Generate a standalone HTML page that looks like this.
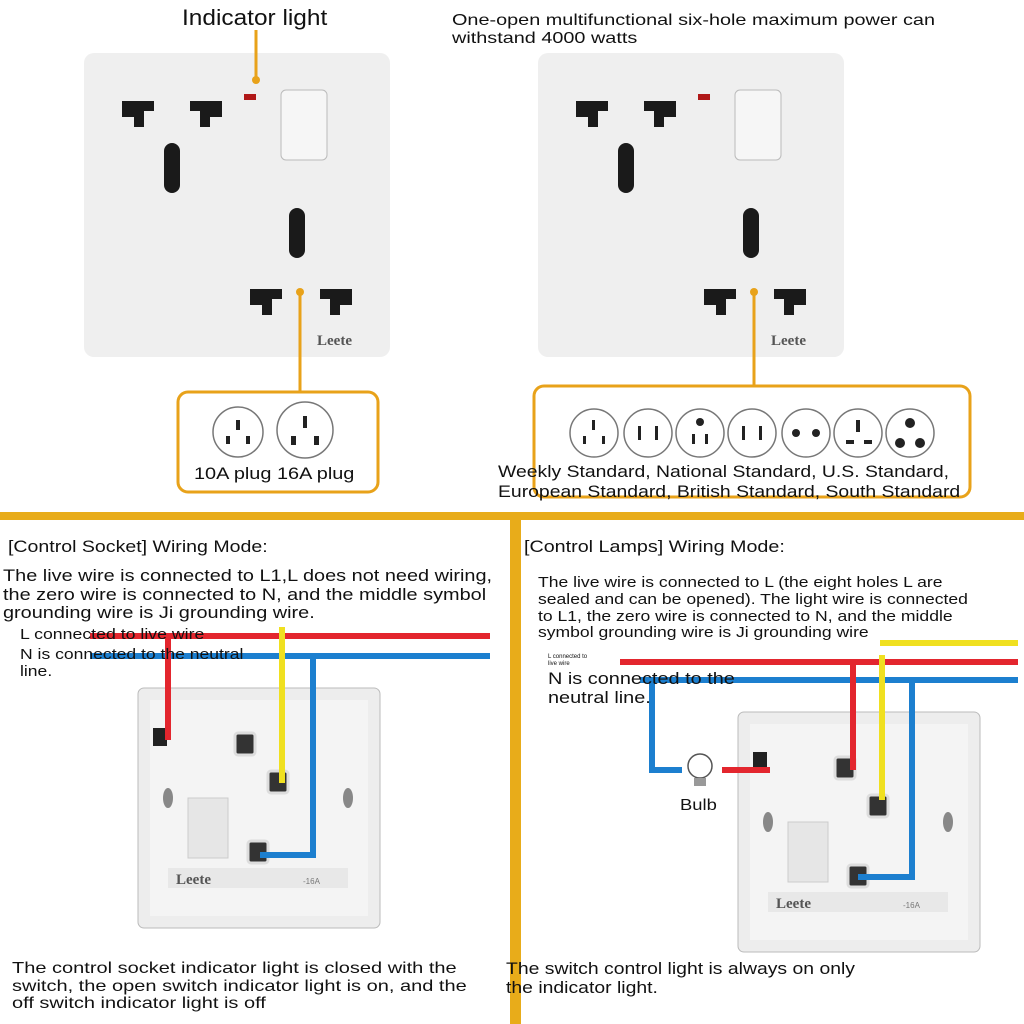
<!DOCTYPE html>
<html><head><meta charset="utf-8"><style>
body{margin:0;width:1024px;height:1024px;background:#fff;position:relative;overflow:hidden;font-family:"Liberation Sans",sans-serif;color:#111}
.t{position:absolute;white-space:nowrap;line-height:1.12;transform-origin:0 0}
</style></head><body>
<svg width="1024" height="1024" style="position:absolute;left:0;top:0">
<defs>
<g id="fp">
<rect x="0" y="0" width="306" height="304" rx="10" fill="#efefef"/>
<rect x="197" y="37" width="46" height="70" rx="5" fill="#f6f6f6" stroke="#bbb"/>
<rect x="160" y="41" width="12" height="6" fill="#b01818"/>
<path d="M38,48 h32 v10 h-10 v16 h-10 v-10 h-12z" fill="#1a1a1a"/>
<path d="M138,48 h-32 v10 h10 v16 h10 v-10 h12z" fill="#1a1a1a"/>
<rect x="80" y="90" width="16" height="50" rx="8" fill="#1a1a1a"/>
<rect x="205" y="155" width="16" height="50" rx="8" fill="#1a1a1a"/>
<path d="M166,236 h32 v10 h-10 v16 h-10 v-10 h-12z" fill="#1a1a1a"/>
<path d="M268,236 h-32 v10 h10 v16 h10 v-10 h12z" fill="#1a1a1a"/>
<text x="233" y="292" font-family="Liberation Serif" font-size="15" font-weight="bold" fill="#555">Leete</text>
</g>
<g id="bp">
<rect x="0" y="0" width="242" height="240" rx="6" fill="#ededed" stroke="#bbb"/>
<rect x="12" y="12" width="218" height="216" fill="#f4f4f4"/>
<rect x="15" y="40" width="14" height="18" fill="#222"/>
<rect x="97" y="45" width="20" height="22" rx="3" fill="#333" stroke="#ddd" stroke-width="3"/>
<rect x="130" y="83" width="20" height="22" rx="3" fill="#333" stroke="#ddd" stroke-width="3"/>
<rect x="110" y="153" width="20" height="22" rx="3" fill="#333" stroke="#ddd" stroke-width="3"/>
<ellipse cx="30" cy="110" rx="5" ry="10" fill="#888"/>
<ellipse cx="210" cy="110" rx="5" ry="10" fill="#888"/>
<rect x="50" y="110" width="40" height="60" fill="#e6e6e6" stroke="#ccc"/>
<rect x="30" y="180" width="180" height="20" fill="#e8e8e8"/>
<text x="38" y="196" font-family="Liberation Serif" font-size="15" font-weight="bold" fill="#555">Leete</text>
<text x="165" y="196" font-size="8" fill="#777">-16A</text>
</g>
</defs>
<use href="#fp" x="84" y="53"/>
<use href="#fp" x="538" y="53"/>
<g stroke="#e8a21a" stroke-width="3" fill="none">
<line x1="256" y1="30" x2="256" y2="80"/>
<line x1="300" y1="292" x2="300" y2="392"/>
<line x1="754" y1="292" x2="754" y2="386"/>
<rect x="178" y="392" width="200" height="100" rx="10"/>
<rect x="534" y="386" width="436" height="111" rx="10"/>
</g>
<g fill="#e8a21a"><circle cx="256" cy="80" r="4"/><circle cx="300" cy="292" r="4"/><circle cx="754" cy="292" r="4"/></g>
<g fill="#fff" stroke="#777" stroke-width="1.5">
<circle cx="238" cy="432" r="25"/><circle cx="305" cy="430" r="28"/>
<circle cx="594" cy="433" r="24"/><circle cx="648" cy="433" r="24"/><circle cx="700" cy="433" r="24"/><circle cx="752" cy="433" r="24"/><circle cx="806" cy="433" r="24"/><circle cx="858" cy="433" r="24"/><circle cx="910" cy="433" r="24"/>
</g>
<g fill="#222"><rect x="236" y="420" width="4" height="10"/><rect x="226" y="436" width="4" height="8"/><rect x="246" y="436" width="4" height="8"/>
<rect x="303" y="416" width="4" height="12"/><rect x="291" y="436" width="5" height="9"/><rect x="314" y="436" width="5" height="9"/>
<circle cx="910" cy="423" r="5"/><circle cx="900" cy="443" r="5"/><circle cx="920" cy="443" r="5"/><circle cx="796" cy="433" r="4"/><circle cx="816" cy="433" r="4"/><circle cx="700" cy="422" r="4"/><rect x="638" y="426" width="3" height="14"/><rect x="655" y="426" width="3" height="14"/><rect x="742" y="426" width="3" height="14"/><rect x="759" y="426" width="3" height="14"/><rect x="692" y="434" width="3" height="10"/><rect x="705" y="434" width="3" height="10"/><rect x="856" y="420" width="4" height="12"/><rect x="846" y="440" width="8" height="4"/><rect x="864" y="440" width="8" height="4"/><rect x="592" y="420" width="3" height="10"/><rect x="583" y="436" width="3" height="8"/><rect x="602" y="436" width="3" height="8"/></g>
<rect x="0" y="512" width="1024" height="8" fill="#e8ac1a"/>
<rect x="510" y="512" width="11" height="512" fill="#e8ac1a"/>
<use href="#bp" x="138" y="688"/>
<use href="#bp" x="738" y="712"/>
<g fill="none" stroke-width="6">
<line x1="90" y1="636" x2="490" y2="636" stroke="#e3262e"/>
<line x1="90" y1="656" x2="490" y2="656" stroke="#1c7fcf"/>
<polyline points="168,636 168,740" stroke="#e3262e"/>
<polyline points="282,627 282,783" stroke="#f0e020"/>
<polyline points="313,656 313,855 260,855" stroke="#1c7fcf"/>
<line x1="880" y1="643" x2="1018" y2="643" stroke="#f0e020"/>
<line x1="620" y1="662" x2="1018" y2="662" stroke="#e3262e"/>
<line x1="640" y1="680" x2="1018" y2="680" stroke="#1c7fcf"/>
<polyline points="882,655 882,800" stroke="#f0e020"/>
<polyline points="853,662 853,770" stroke="#e3262e"/>
<polyline points="652,680 652,770 682,770" stroke="#1c7fcf"/>
<polyline points="722,770 770,770" stroke="#e3262e"/>
<polyline points="912,680 912,877 858,877" stroke="#1c7fcf"/>
</g>
<circle cx="700" cy="766" r="12" fill="#fff" stroke="#555" stroke-width="1.5"/>
<rect x="694" y="778" width="12" height="8" fill="#999"/>
</svg>
<div class="t" style="left:182px;top:6px;font-size:22px;transform:scaleX(1.11)">Indicator light</div>
<div class="t" style="left:452px;top:12px;font-size:16px;line-height:1.15;transform:scaleX(1.24)">One-open multifunctional six-hole maximum power can<br>withstand 4000 watts</div>
<div class="t" style="left:194px;top:464px;font-size:17px;transform:scaleX(1.17)">10A plug 16A plug</div>
<div class="t" style="left:498px;top:462px;font-size:17px;line-height:1.15;transform:scaleX(1.14)">Weekly Standard, National Standard, U.S. Standard,<br>European Standard, British Standard, South Standard</div>
<div class="t" style="left:8px;top:537px;font-size:17px;transform:scaleX(1.15)">[Control Socket] Wiring Mode:</div>
<div class="t" style="left:3px;top:567px;font-size:17px;line-height:1.1;transform:scaleX(1.17)">The live wire is connected to L1,L does not need wiring,<br>the zero wire is connected to N, and the middle symbol<br>grounding wire is Ji grounding wire.</div>
<div class="t" style="left:20px;top:627px;font-size:15px;transform:scaleX(1.18)">L connected to live wire</div>
<div class="t" style="left:20px;top:647px;font-size:15px;line-height:1.1;transform:scaleX(1.17)">N is connected to the neutral<br>line.</div>
<div class="t" style="left:12px;top:960px;font-size:16px;line-height:1.1;transform:scaleX(1.25)">The control socket indicator light is closed with the<br>switch, the open switch indicator light is on, and the<br>off switch indicator light is off</div>
<div class="t" style="left:524px;top:537px;font-size:17px;transform:scaleX(1.16)">[Control Lamps] Wiring Mode:</div>
<div class="t" style="left:538px;top:575px;font-size:15px;line-height:1.12;transform:scaleX(1.17)">The live wire is connected to L (the eight holes L are<br>sealed and can be opened). The light wire is connected<br>to L1, the zero wire is connected to N, and the middle<br>symbol grounding wire is Ji grounding wire</div>
<div class="t" style="left:548px;top:654px;font-size:6px">L connected to<br>live wire</div>
<div class="t" style="left:548px;top:670px;font-size:17px;line-height:1.1;transform:scaleX(1.17)">N is connected to the<br>neutral line.</div>
<div class="t" style="left:680px;top:797px;font-size:16px;transform:scaleX(1.15)">Bulb</div>
<div class="t" style="left:506px;top:960px;font-size:17px;line-height:1.1;transform:scaleX(1.14)">The switch control light is always on only<br>the indicator light.</div>
</body></html>
